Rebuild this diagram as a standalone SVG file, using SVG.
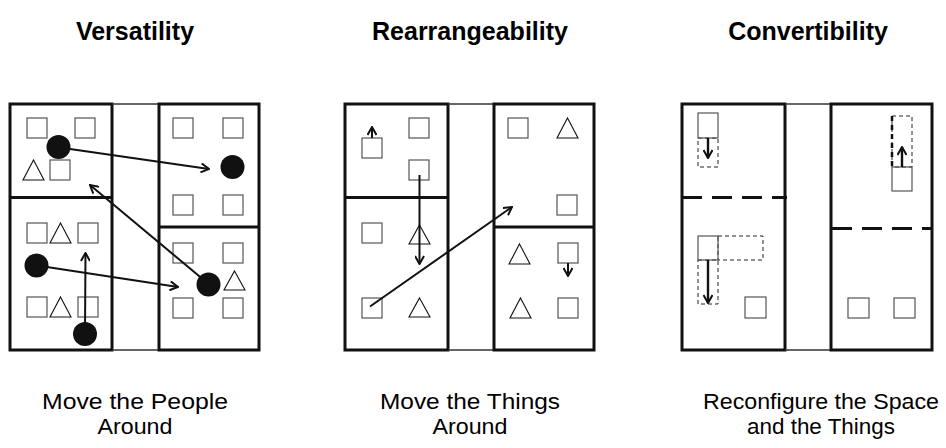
<svg xmlns="http://www.w3.org/2000/svg" width="946" height="448" viewBox="0 0 946 448">
  <style>
    .wall { fill: none; stroke: #111; stroke-width: 3; }
    .hall { fill: none; stroke: #333; stroke-width: 1.5; }
    .part { stroke: #111; stroke-width: 3; }
    .dpart { stroke: #111; stroke-width: 3; stroke-dasharray: 20 10; }
    .sq { fill: none; stroke: #555; stroke-width: 1.2; }
    .tri { fill: none; stroke: #111; stroke-width: 1.1; }
    .ball { fill: #111; }
    .ghost { fill: none; stroke: #222; stroke-width: 1; stroke-dasharray: 4 3; }
    .arrow { fill: none; stroke: #111; stroke-width: 2; marker-end: url(#head); }
    .arrow3 { fill: none; stroke: #111; stroke-width: 2.4; marker-end: url(#head); }
    .title { font-family: "Liberation Sans", Arial, sans-serif; font-weight: bold; font-size: 25px; text-anchor: middle; fill: #000; }
    .caption { font-family: "Liberation Sans", Arial, sans-serif; font-size: 22px; text-anchor: middle; fill: #000; }
  </style>
  <defs>
    <marker id="head" viewBox="0 0 10 10" refX="9" refY="5" markerWidth="10" markerHeight="10" markerUnits="userSpaceOnUse" orient="auto">
      <path d="M1,0.5 L9,5 L1,9.5" fill="none" stroke="#111" stroke-width="2"/>
    </marker>
  </defs>
  <rect width="946" height="448" fill="#fff"/>

  <!-- Titles -->
  <text class="title" x="135" y="40">Versatility</text>
  <text class="title" x="470" y="40">Rearrangeability</text>
  <text class="title" x="808" y="40">Convertibility</text>

  <!-- Panel 1: Versatility -->
  <g id="versatility">
    <g id="v-left">
      <rect class="wall" x="10" y="104" width="102" height="246"/>
      <line class="part" x1="10" y1="197.5" x2="112" y2="197.5"/>
    </g>
    <g id="v-hall">
      <line class="hall" x1="112" y1="104" x2="159" y2="104"/>
      <line class="hall" x1="112" y1="350" x2="159" y2="350"/>
    </g>
    <g id="v-right">
      <rect class="wall" x="159" y="104" width="100" height="246"/>
      <line class="part" x1="159" y1="227" x2="259" y2="227"/>
    </g>
    <g id="v-things">
      <rect class="sq" x="27" y="118" width="20" height="20"/>
      <rect class="sq" x="75" y="118" width="20" height="20"/>
      <polygon class="tri" points="33.5,160 44,180 23,180"/>
      <rect class="sq" x="50" y="160" width="20" height="20"/>
      <rect class="sq" x="173" y="118" width="20" height="20"/>
      <rect class="sq" x="223" y="118" width="20" height="20"/>
      <rect class="sq" x="173" y="195" width="20" height="20"/>
      <rect class="sq" x="223" y="195" width="20" height="20"/>
      <rect class="sq" x="27" y="223" width="20" height="20"/>
      <polygon class="tri" points="60.5,223 71,243 50,243"/>
      <rect class="sq" x="78" y="223" width="20" height="20"/>
      <rect class="sq" x="27" y="297" width="20" height="20"/>
      <polygon class="tri" points="60.5,297 71,317 50,317"/>
      <rect class="sq" x="78" y="297" width="20" height="20"/>
      <rect class="sq" x="173" y="243" width="20" height="20"/>
      <rect class="sq" x="223" y="243" width="20" height="20"/>
      <polygon class="tri" points="234.5,271 245,290 224,290"/>
      <rect class="sq" x="173" y="298" width="20" height="20"/>
      <rect class="sq" x="223" y="298" width="20" height="20"/>
    </g>
  </g>

  <!-- Panel 2: Rearrangeability -->
  <g id="rearrangeability">
    <g id="r-left">
      <rect class="wall" x="345" y="104" width="103" height="246"/>
      <line class="part" x1="345" y1="197.5" x2="448" y2="197.5"/>
    </g>
    <g id="r-hall">
      <line class="hall" x1="448" y1="104" x2="494" y2="104"/>
      <line class="hall" x1="448" y1="350" x2="494" y2="350"/>
    </g>
    <g id="r-right">
      <rect class="wall" x="494" y="104" width="100" height="246"/>
      <line class="part" x1="494" y1="227" x2="594" y2="227"/>
    </g>
    <g id="r-things">
      <rect class="sq" x="362" y="138" width="20" height="20"/>
      <rect class="sq" x="409" y="118" width="20" height="20"/>
      <rect class="sq" x="409" y="160" width="20" height="20"/>
      <rect class="sq" x="362" y="223" width="20" height="20"/>
      <polygon class="tri" points="419.5,225 430,244 409,244"/>
      <rect class="sq" x="362" y="298" width="20" height="20"/>
      <polygon class="tri" points="419.5,298 430,317 409,317"/>
      <rect class="sq" x="508" y="118" width="20" height="20"/>
      <polygon class="tri" points="567.5,118 578,138 557,138"/>
      <rect class="sq" x="557" y="195" width="20" height="20"/>
      <polygon class="tri" points="519.5,244 530,264 509,264"/>
      <rect class="sq" x="558" y="243" width="20" height="20"/>
      <polygon class="tri" points="520.5,298 531,318 510,318"/>
      <rect class="sq" x="558" y="298" width="20" height="20"/>
    </g>
  </g>

  <!-- Panel 3: Convertibility -->
  <g id="convertibility">
    <g id="c-left">
      <rect class="wall" x="682" y="104" width="103" height="246"/>
      <line class="dpart" x1="682" y1="197.5" x2="787" y2="197.5"/>
    </g>
    <g id="c-hall">
      <line class="hall" x1="785" y1="104" x2="831" y2="104"/>
      <line class="hall" x1="785" y1="350" x2="831" y2="350"/>
    </g>
    <g id="c-right">
      <rect class="wall" x="831" y="104" width="101" height="246"/>
      <line class="dpart" x1="832" y1="228.5" x2="932" y2="228.5"/>
    </g>
    <g id="c-things">
      <rect class="ghost" x="698" y="138" width="20" height="29"/>
      <rect class="sq" x="698" y="113" width="20" height="25"/>
      <rect class="ghost" x="892" y="116" width="20" height="51"/>
      <line x1="892" y1="116" x2="892" y2="167" stroke="#111" stroke-width="2.5" stroke-dasharray="5 4"/>
      <rect class="sq" x="892" y="167" width="20" height="24"/>
      <rect class="ghost" x="718" y="236" width="45" height="24"/>
      <rect class="ghost" x="698" y="260" width="20" height="44"/>
      <rect class="sq" x="698" y="236" width="20" height="24"/>
      <rect class="sq" x="745" y="297" width="21" height="21"/>
      <rect class="sq" x="848" y="298" width="21" height="20"/>
      <rect class="sq" x="894" y="298" width="21" height="20"/>
    </g>
  </g>

  <!-- Movement arrows -->
  <g id="connectors">
    <line class="arrow" x1="70" y1="149" x2="209" y2="169"/>
    <line class="arrow" x1="205" y1="281" x2="90" y2="185"/>
    <line class="arrow" x1="37" y1="265.5" x2="178" y2="287"/>
    <line class="arrow" x1="85" y1="334" x2="85.5" y2="253"/>
    <line class="arrow" x1="372" y1="138" x2="372" y2="127"/>
    <line class="arrow" x1="419.5" y1="175" x2="419.5" y2="264"/>
    <line class="arrow" x1="370" y1="306.5" x2="512" y2="207"/>
    <line class="arrow" x1="568" y1="263" x2="568" y2="276"/>
    <line class="arrow3" x1="708" y1="138" x2="708" y2="158"/>
    <line class="arrow3" x1="902" y1="167" x2="902" y2="147"/>
    <line class="arrow3" x1="708" y1="260" x2="708" y2="303"/>
  </g>

  <!-- People -->
  <g id="people">
    <circle class="ball" cx="58.5" cy="147" r="12"/>
    <circle class="ball" cx="232.5" cy="167" r="12"/>
    <circle class="ball" cx="36.5" cy="265.5" r="12"/>
    <circle class="ball" cx="85" cy="334" r="12"/>
    <circle class="ball" cx="208.5" cy="284.5" r="12"/>
  </g>

  <!-- Captions -->
  <text class="caption" x="135" y="409" textLength="186" lengthAdjust="spacingAndGlyphs">Move the People</text>
  <text class="caption" x="135" y="434" textLength="75" lengthAdjust="spacingAndGlyphs">Around</text>
  <text class="caption" x="470" y="409" textLength="180" lengthAdjust="spacingAndGlyphs">Move the Things</text>
  <text class="caption" x="470" y="434" textLength="75" lengthAdjust="spacingAndGlyphs">Around</text>
  <text class="caption" x="821" y="409" textLength="236" lengthAdjust="spacingAndGlyphs">Reconfigure the Space</text>
  <text class="caption" x="821" y="434" textLength="148" lengthAdjust="spacingAndGlyphs">and the Things</text>
</svg>
